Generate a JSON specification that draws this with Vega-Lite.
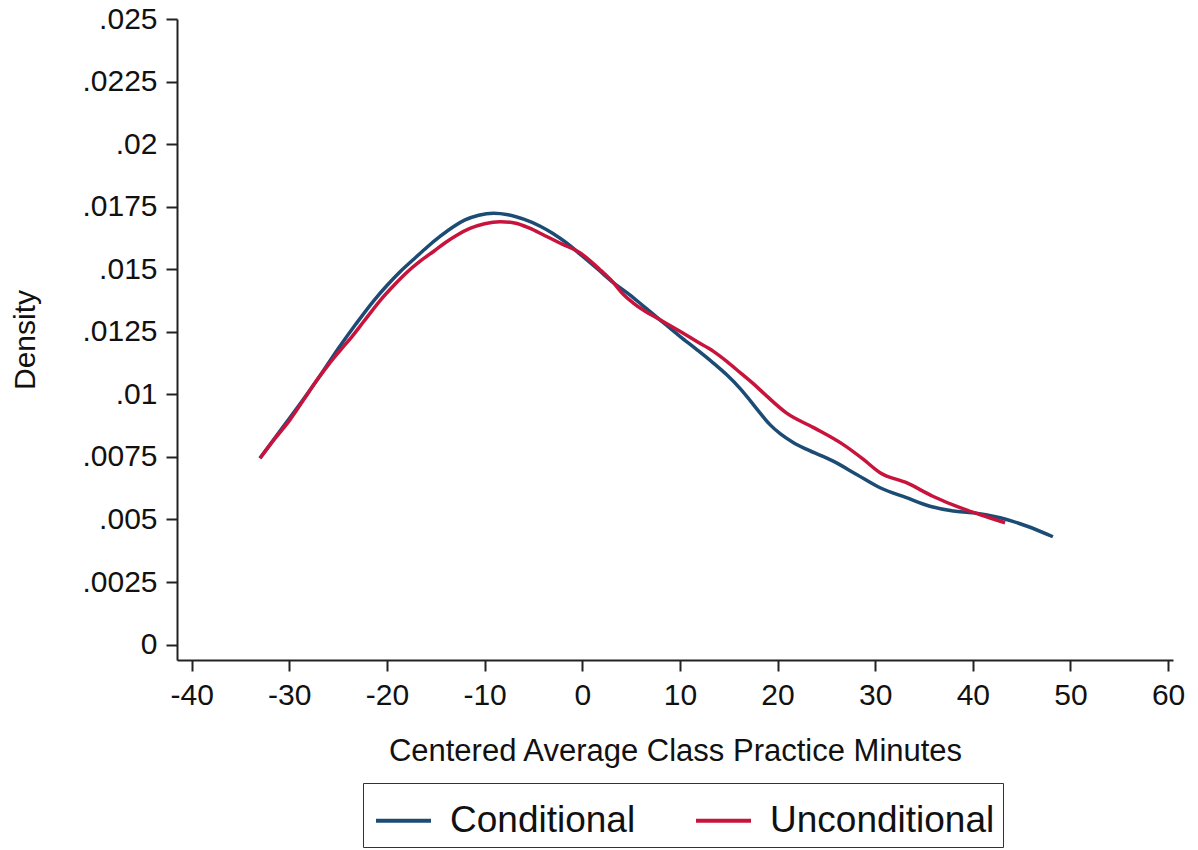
{
  "$schema": "https://vega.github.io/schema/vega-lite/v6.json",
  "width": 996,
  "height": 641,
  "autosize": {"type": "none"},
  "padding": {"left": 177, "top": 19, "right": 25, "bottom": 190},
  "background": "white",
  "config": {
    "view": {"stroke": null},
    "font": "Liberation Sans",
    "axis": {
      "domainColor": "#222",
      "domainWidth": 2,
      "tickColor": "#222",
      "tickWidth": 2,
      "tickSize": 11,
      "grid": false,
      "labelColor": "#111",
      "titleColor": "#111",
      "titleFontWeight": "normal",
      "labelFont": "Liberation Sans",
      "titleFont": "Liberation Sans"
    }
  },
  "data": {
    "values": [
      {"x": -33.0, "density": 0.00745, "series": "Conditional"},
      {"x": -31.5, "density": 0.00825, "series": "Conditional"},
      {"x": -30.0, "density": 0.00903, "series": "Conditional"},
      {"x": -28.5, "density": 0.00983, "series": "Conditional"},
      {"x": -27.0, "density": 0.01066, "series": "Conditional"},
      {"x": -25.0, "density": 0.01182, "series": "Conditional"},
      {"x": -23.2, "density": 0.01280, "series": "Conditional"},
      {"x": -21.4, "density": 0.01372, "series": "Conditional"},
      {"x": -20.0, "density": 0.01435, "series": "Conditional"},
      {"x": -18.6, "density": 0.01492, "series": "Conditional"},
      {"x": -17.2, "density": 0.01542, "series": "Conditional"},
      {"x": -15.9, "density": 0.01588, "series": "Conditional"},
      {"x": -14.5, "density": 0.01633, "series": "Conditional"},
      {"x": -13.2, "density": 0.01670, "series": "Conditional"},
      {"x": -12.0, "density": 0.01697, "series": "Conditional"},
      {"x": -10.6, "density": 0.01716, "series": "Conditional"},
      {"x": -9.1, "density": 0.01724, "series": "Conditional"},
      {"x": -7.6, "density": 0.01718, "series": "Conditional"},
      {"x": -6.0, "density": 0.01700, "series": "Conditional"},
      {"x": -4.3, "density": 0.01672, "series": "Conditional"},
      {"x": -3.0, "density": 0.01643, "series": "Conditional"},
      {"x": -1.6, "density": 0.01605, "series": "Conditional"},
      {"x": 0.0, "density": 0.01553, "series": "Conditional"},
      {"x": 1.6, "density": 0.01500, "series": "Conditional"},
      {"x": 3.2, "density": 0.01446, "series": "Conditional"},
      {"x": 4.8, "density": 0.01400, "series": "Conditional"},
      {"x": 6.2, "density": 0.01355, "series": "Conditional"},
      {"x": 7.6, "density": 0.01310, "series": "Conditional"},
      {"x": 10.0, "density": 0.01232, "series": "Conditional"},
      {"x": 11.7, "density": 0.01180, "series": "Conditional"},
      {"x": 13.4, "density": 0.01126, "series": "Conditional"},
      {"x": 14.8, "density": 0.01078, "series": "Conditional"},
      {"x": 16.2, "density": 0.01022, "series": "Conditional"},
      {"x": 17.2, "density": 0.00975, "series": "Conditional"},
      {"x": 18.2, "density": 0.00926, "series": "Conditional"},
      {"x": 19.2, "density": 0.00880, "series": "Conditional"},
      {"x": 20.3, "density": 0.00842, "series": "Conditional"},
      {"x": 21.6, "density": 0.00808, "series": "Conditional"},
      {"x": 23.0, "density": 0.00780, "series": "Conditional"},
      {"x": 25.7, "density": 0.00733, "series": "Conditional"},
      {"x": 28.1, "density": 0.00680, "series": "Conditional"},
      {"x": 30.5, "density": 0.00627, "series": "Conditional"},
      {"x": 33.2, "density": 0.00587, "series": "Conditional"},
      {"x": 35.6, "density": 0.00553, "series": "Conditional"},
      {"x": 38.0, "density": 0.00534, "series": "Conditional"},
      {"x": 40.0, "density": 0.00527, "series": "Conditional"},
      {"x": 42.8, "density": 0.00507, "series": "Conditional"},
      {"x": 45.5, "density": 0.00474, "series": "Conditional"},
      {"x": 48.2, "density": 0.00431, "series": "Conditional"},
      {"x": -33.0, "density": 0.00745, "series": "Unconditional"},
      {"x": -31.5, "density": 0.00822, "series": "Unconditional"},
      {"x": -29.9, "density": 0.00900, "series": "Unconditional"},
      {"x": -28.5, "density": 0.00980, "series": "Unconditional"},
      {"x": -27.2, "density": 0.01055, "series": "Unconditional"},
      {"x": -26.0, "density": 0.01118, "series": "Unconditional"},
      {"x": -24.8, "density": 0.01175, "series": "Unconditional"},
      {"x": -23.6, "density": 0.01230, "series": "Unconditional"},
      {"x": -22.4, "density": 0.01290, "series": "Unconditional"},
      {"x": -20.7, "density": 0.01375, "series": "Unconditional"},
      {"x": -19.3, "density": 0.01435, "series": "Unconditional"},
      {"x": -18.0, "density": 0.01486, "series": "Unconditional"},
      {"x": -16.6, "density": 0.01532, "series": "Unconditional"},
      {"x": -15.2, "density": 0.01572, "series": "Unconditional"},
      {"x": -14.0, "density": 0.01607, "series": "Unconditional"},
      {"x": -12.8, "density": 0.01637, "series": "Unconditional"},
      {"x": -11.5, "density": 0.01663, "series": "Unconditional"},
      {"x": -10.0, "density": 0.01682, "series": "Unconditional"},
      {"x": -8.4, "density": 0.01690, "series": "Unconditional"},
      {"x": -6.8, "density": 0.01684, "series": "Unconditional"},
      {"x": -5.4, "density": 0.01664, "series": "Unconditional"},
      {"x": -4.0, "density": 0.01638, "series": "Unconditional"},
      {"x": -2.3, "density": 0.01605, "series": "Unconditional"},
      {"x": -0.2, "density": 0.01565, "series": "Unconditional"},
      {"x": 1.8, "density": 0.01499, "series": "Unconditional"},
      {"x": 3.2, "density": 0.01446, "series": "Unconditional"},
      {"x": 4.2, "density": 0.01400, "series": "Unconditional"},
      {"x": 5.2, "density": 0.01366, "series": "Unconditional"},
      {"x": 6.4, "density": 0.01333, "series": "Unconditional"},
      {"x": 7.6, "density": 0.01306, "series": "Unconditional"},
      {"x": 10.0, "density": 0.01252, "series": "Unconditional"},
      {"x": 11.7, "density": 0.01212, "series": "Unconditional"},
      {"x": 13.4, "density": 0.01173, "series": "Unconditional"},
      {"x": 14.8, "density": 0.01132, "series": "Unconditional"},
      {"x": 16.2, "density": 0.01086, "series": "Unconditional"},
      {"x": 17.6, "density": 0.01040, "series": "Unconditional"},
      {"x": 18.9, "density": 0.00993, "series": "Unconditional"},
      {"x": 20.9, "density": 0.00926, "series": "Unconditional"},
      {"x": 23.7, "density": 0.00867, "series": "Unconditional"},
      {"x": 26.7, "density": 0.00800, "series": "Unconditional"},
      {"x": 28.8, "density": 0.00740, "series": "Unconditional"},
      {"x": 30.5, "density": 0.00687, "series": "Unconditional"},
      {"x": 33.2, "density": 0.00647, "series": "Unconditional"},
      {"x": 35.9, "density": 0.00593, "series": "Unconditional"},
      {"x": 38.7, "density": 0.00547, "series": "Unconditional"},
      {"x": 40.7, "density": 0.00520, "series": "Unconditional"},
      {"x": 43.3, "density": 0.00487, "series": "Unconditional"}
    ]
  },
  "mark": {"type": "line", "strokeWidth": 3.5, "interpolate": "monotone"},
  "encoding": {
    "x": {
      "field": "x",
      "type": "quantitative",
      "scale": {"domain": [-41.5, 60.5], "nice": false, "zero": false},
      "axis": {
        "values": [-40, -30, -20, -10, 0, 10, 20, 30, 40, 50, 60],
        "labelExpr": "toString(datum.value)",
        "labelFontSize": 30,
        "labelPadding": 9,
        "title": "Centered Average Class Practice Minutes",
        "titleFontSize": 31,
        "titlePadding": 26
      }
    },
    "y": {
      "field": "density",
      "type": "quantitative",
      "scale": {"domain": [-0.000615, 0.025], "nice": false, "zero": false},
      "axis": {
        "values": [0, 0.0025, 0.005, 0.0075, 0.01, 0.0125, 0.015, 0.0175, 0.02, 0.0225, 0.025],
        "labelExpr": "datum.value == 0 ? '0' : replace(toString(datum.value), '0.', '.')",
        "labelFontSize": 30,
        "labelPadding": 9,
        "title": "Density",
        "titleFontSize": 30,
        "titlePadding": 41
      }
    },
    "color": {
      "field": "series",
      "type": "nominal",
      "scale": {"domain": ["Conditional", "Unconditional"], "range": ["#1c4b74", "#c8143c"]},
      "legend": {
        "title": null,
        "orient": "none",
        "legendX": 186,
        "legendY": 764,
        "direction": "horizontal",
        "symbolType": "stroke",
        "symbolSize": 3025,
        "symbolStrokeWidth": 4,
        "symbolOffset": 3,
        "labelFontSize": 37,
        "labelLimit": 500,
        "labelColor": "#111",
        "labelOffset": 17,
        "columnPadding": 52,
        "padding": 8,
        "strokeColor": "#333"
      }
    }
  }
}
